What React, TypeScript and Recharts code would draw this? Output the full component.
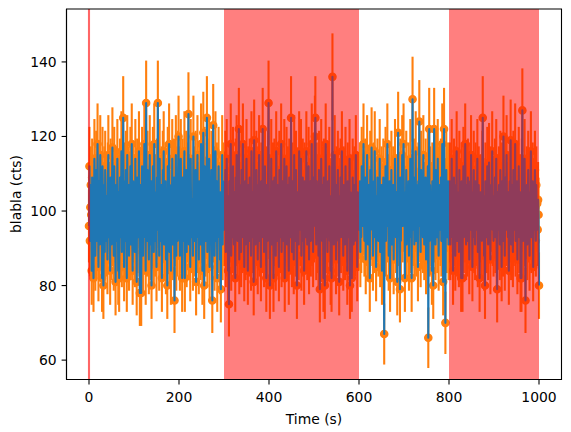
import React from 'react';
import {
  ComposedChart,
  Line,
  XAxis,
  YAxis,
  ErrorBar,
  ReferenceArea,
  ReferenceLine,
} from 'recharts';

// Counts, one value per second (t = 0 .. 1000)
const seg0 = [
  96,112,92,101,107,99,84,109,104,93,
  82,97,114,105,88,100,111,92,96,118,
  103,85,108,99,91,115,100,95,105,82,
  112,101,80,96,107,89,111,100,92,104,
  97,87,108,115,99,93,103,84,109,101,
  91,105,117,95,100,88,112,96,104,81,
  107,99,92,114,101,84,105,82,97,109,
  100,93,116,89,104,96,125,101,85,108,
  99,92,111,103,82,115,95,100,107,88,
  104,97,112,91,101,118,93,84,108,100,
];
const seg1 = [
  96,105,89,114,99,101,81,109,93,104,
  100,116,92,78,107,97,78,103,112,95,
  88,108,100,118,93,104,84,129,99,92,
  111,101,96,87,105,115,91,100,108,80,
  103,95,112,99,89,118,101,92,105,97,
  85,109,100,129,95,104,88,114,97,103,
  92,107,82,100,111,96,116,91,101,99,
  108,87,104,95,80,112,100,93,118,89,
  101,97,84,107,96,114,91,103,99,109,
  76,104,95,115,88,100,107,92,111,120,
];
const seg2 = [
  97,107,88,103,114,93,100,82,109,99,
  92,104,116,82,100,95,111,89,101,96,
  108,126,91,99,105,85,114,97,93,103,
  100,88,120,96,107,92,101,111,81,104,
  99,115,93,103,87,108,97,105,91,118,
  96,101,84,107,121,95,80,112,100,92,
  104,97,125,89,109,100,93,114,85,105,
  101,95,111,91,76,103,123,96,107,88,
  99,116,92,100,108,82,104,97,112,93,
  103,87,105,79,100,96,115,91,108,99,
];
const seg3 = [
  95,105,99,111,89,101,114,92,104,84,
  100,75,108,96,103,118,88,99,107,93,
  112,97,91,105,100,82,109,95,115,101,
  92,104,99,122,87,107,97,103,89,111,
  100,93,118,96,105,85,101,108,91,99,
  114,95,103,84,107,100,92,109,97,104,
  88,116,99,93,105,101,81,119,96,108,
  91,100,111,95,103,87,107,99,115,92,
  104,96,85,108,100,93,122,97,105,89,
  101,112,95,99,82,107,103,92,111,129,
];
const seg4 = [
  97,105,80,101,93,114,91,103,99,108,
  82,100,109,95,104,88,116,97,92,107,
  101,96,85,111,100,93,105,118,89,99,
  108,92,103,97,114,82,104,100,95,112,
  91,101,107,96,84,109,99,105,93,125,
  100,89,108,97,104,87,115,95,101,92,
  111,99,80,105,96,103,91,116,100,107,
  95,114,88,104,99,109,92,101,84,108,
  97,105,93,116,100,91,103,96,112,87,
  104,99,108,92,101,118,95,100,89,109,
];
const seg5 = [
  96,103,120,125,99,91,108,100,93,105,
  88,111,97,79,104,95,114,101,92,107,
  99,82,109,100,80,103,118,93,97,105,
  89,108,100,96,112,92,101,84,104,82,
  99,136,95,105,91,103,115,97,100,87,
  107,96,101,111,92,99,81,104,100,109,
  93,103,116,95,100,88,107,97,105,91,
  112,100,96,104,84,108,99,101,93,114,
  80,105,97,103,82,95,109,100,91,101,
  107,92,99,115,96,103,85,105,100,95,
];
const seg6 = [
  104,97,108,89,101,93,112,100,96,105,
  118,99,92,103,109,87,104,95,115,100,
  91,107,97,101,82,111,95,103,117,99,
  105,88,100,108,93,116,97,104,85,101,
  96,109,100,92,105,99,114,89,103,95,
  107,84,101,97,109,93,67,104,100,112,
  92,103,96,118,99,105,88,100,108,82,
  101,95,111,91,104,99,107,87,103,96,
  114,100,93,105,97,81,101,121,95,104,
  100,79,109,92,103,99,115,96,107,118,
];
const seg7 = [
  99,105,82,101,95,111,91,103,100,96,
  108,88,104,97,114,93,101,82,105,130,
  100,95,109,91,103,99,116,92,107,97,
  101,85,108,96,124,100,104,89,111,95,
  99,105,93,115,100,91,103,97,109,87,
  104,96,101,112,66,100,122,92,107,99,
  95,103,84,108,100,80,105,122,96,101,
  91,111,99,104,93,114,100,88,107,97,
  103,95,109,92,101,118,99,81,105,122,
  100,96,70,104,111,93,101,99,108,91,
];
const seg8 = [
  101,96,108,91,105,99,114,93,103,84,
  100,109,95,104,88,107,97,116,92,101,
  99,105,89,111,100,95,104,82,108,97,
  82,101,112,93,103,96,118,99,91,107,
  100,92,109,97,104,87,101,108,95,115,
  96,103,85,105,100,111,93,101,91,108,
  99,104,95,114,89,100,107,97,82,103,
  105,96,101,92,111,125,99,104,88,100,
  80,108,97,103,93,112,100,91,105,113,
  96,101,87,107,99,104,116,95,100,92,
];
const seg9 = [
  104,97,109,93,101,114,89,79,105,99,
  95,107,100,91,111,96,103,85,108,100,
  92,120,99,104,88,109,100,95,115,97,
  103,93,105,84,101,108,96,119,91,100,
  107,99,89,111,95,104,100,118,92,101,
  97,108,87,103,96,112,93,100,105,82,
  101,82,109,127,99,92,104,100,114,95,
  76,103,97,107,91,101,111,96,100,88,
  105,99,116,93,103,96,108,85,100,104,
  95,111,101,92,107,99,102,95,103,99,
];
const segTail = [80];

const xTicks = [0, 200, 400, 600, 800, 1000];
const yTicks = [60, 80, 100, 120, 140];
const spans = [
  [300, 600],
  [800, 1000],
];
const markLine = 0;

const segments = [seg0, seg1, seg2, seg3, seg4, seg5, seg6, seg7, seg8, seg9];
const data: { t: number; v: number; err: number }[] = [];
segments.forEach((seg, b) => {
  seg.forEach((v, j) => {
    data.push({ t: b * 100 + j, v, err: Math.sqrt(v) });
  });
});
segTail.forEach((v, j) => data.push({ t: 1000 + j, v, err: Math.sqrt(v) }));

const FONT = 'DejaVu Sans, Verdana, sans-serif';
const ORANGE = '#ff7f0e';
const BLUE = '#1f77b4';

const X_DOMAIN: [number, number] = [-50, 1050];
const Y_DOMAIN: [number, number] = [54.8, 154.2];

export default function App() {
  const tickStyle = { fill: '#000', fontSize: 13.9, fontFamily: FONT };
  return (
    <div style={{ position: 'absolute', left: 0, top: 0, width: 571, height: 432, background: '#fff' }}>
      <ComposedChart
        width={571}
        height={432}
        data={data}
        margin={{ top: 9, right: 9.5, bottom: 0, left: 0 }}
      >
        <XAxis
          dataKey="t"
          type="number"
          domain={X_DOMAIN}
          ticks={xTicks}
          interval={0}
          height={52.5}
          tick={tickStyle}
          tickSize={4.9}
          tickMargin={7.6}
          axisLine={{ stroke: '#000', strokeWidth: 1.1 }}
          tickLine={{ stroke: '#000', strokeWidth: 1.1 }}
          allowDataOverflow
        />
        <YAxis
          type="number"
          domain={Y_DOMAIN}
          ticks={yTicks}
          interval={0}
          width={66.5}
          tick={tickStyle}
          tickSize={4.9}
          tickMargin={4.9}
          axisLine={{ stroke: '#000', strokeWidth: 1.1 }}
          tickLine={{ stroke: '#000', strokeWidth: 1.1 }}
          allowDataOverflow
        />
        <Line
          dataKey="v"
          type="linear"
          stroke="none"
          isAnimationActive={false}
          dot={{ r: 3.6, fill: ORANGE, stroke: ORANGE, strokeWidth: 1.4 }}
          activeDot={false}
          zIndex={100}
        >
          <ErrorBar
            dataKey="err"
            direction="y"
            width={0}
            stroke={ORANGE}
            strokeWidth={2.1}
            isAnimationActive={false}
            zIndex={100}
          />
        </Line>
        <Line
          dataKey="v"
          type="linear"
          stroke={BLUE}
          strokeWidth={2.1}
          strokeLinejoin="round"
          dot={false}
          activeDot={false}
          isAnimationActive={false}
          zIndex={3000}
        />
        {spans.map(([a, b]) => (
          <ReferenceArea
            key={a}
            x1={a}
            x2={b}
            fill="#ff0000"
            fillOpacity={0.5}
            stroke="none"
            ifOverflow="visible"
            zIndex={3010}
          />
        ))}
        <ReferenceLine
          x={markLine}
          stroke="#ff0000"
          strokeOpacity={0.6}
          strokeWidth={2.1}
          ifOverflow="visible"
          zIndex={3020}
        />
        <ReferenceArea
          x1={X_DOMAIN[0]}
          x2={X_DOMAIN[1]}
          y1={Y_DOMAIN[0]}
          y2={Y_DOMAIN[1]}
          fill="none"
          stroke="#000"
          strokeWidth={1.1}
          ifOverflow="visible"
          zIndex={3030}
        />
      </ComposedChart>
      <svg
        width={571}
        height={432}
        style={{ position: 'absolute', left: 0, top: 0, pointerEvents: 'none' }}
      >
        <text x={314} y={423.5} textAnchor="middle" fontFamily={FONT} fontSize={13.9} fill="#000">
          Time (s)
        </text>
        <text
          transform="translate(20.5,194) rotate(-90)"
          textAnchor="middle"
          fontFamily={FONT}
          fontSize={13.9}
          fill="#000"
        >
          blabla (cts)
        </text>
      </svg>
    </div>
  );
}
